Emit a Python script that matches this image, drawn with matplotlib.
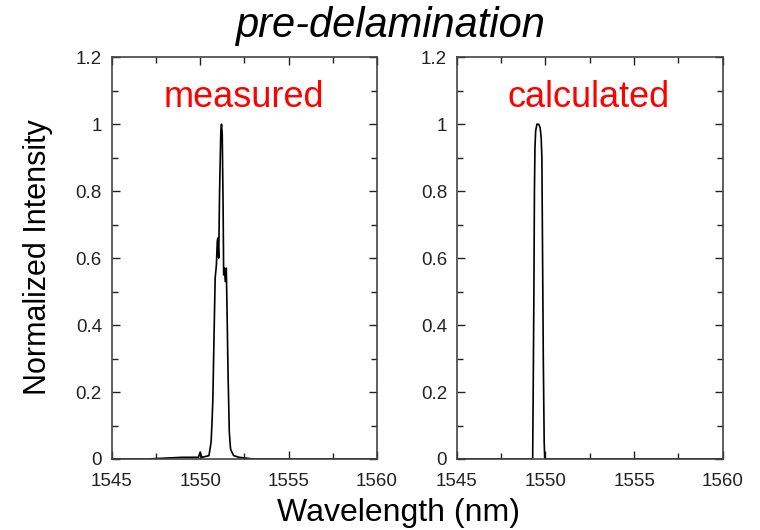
import matplotlib
matplotlib.use("Agg")
import matplotlib.pyplot as plt
from matplotlib.ticker import MultipleLocator

plt.rcParams['font.family'] = ['Liberation Sans', 'DejaVu Sans']

# measured spectrum (nm, normalized)
meas_wl = [1545.0, 1547.0, 1549.0, 1549.9, 1550.0, 1550.1, 1550.5, 1550.62, 1550.68,
           1550.72, 1550.78, 1550.85, 1550.92, 1550.97, 1551.0, 1551.05, 1551.1,
           1551.17, 1551.21, 1551.25, 1551.3, 1551.33, 1551.38, 1551.42, 1551.48,
           1551.52, 1551.58, 1551.65, 1551.72, 1551.8, 1551.9, 1552.2, 1553.0, 1560.0]
meas_int = [0.0, 0.0, 0.005, 0.005, 0.02, 0.005, 0.01, 0.05, 0.12,
            0.18, 0.35, 0.54, 0.58, 0.65, 0.66, 0.6, 0.8,
            0.98, 1.0, 0.97, 0.75, 0.55, 0.57, 0.53, 0.57,
            0.45, 0.25, 0.08, 0.03, 0.02, 0.01, 0.005, 0.0, 0.0]

# calculated spectrum
calc_wl = [1545.0, 1549.28, 1549.31, 1549.35, 1549.38, 1549.41, 1549.45, 1549.52,
           1549.62, 1549.7, 1549.76, 1549.8, 1549.84, 1549.88, 1549.93, 1549.96, 1560.0]
calc_int = [0.0, 0.0, 0.2, 0.5, 0.8, 0.93, 0.98, 1.0,
            1.0, 0.99, 0.96, 0.9, 0.6, 0.3, 0.05, 0.0, 0.0]

fig = plt.figure(figsize=(7.6, 5.3), dpi=100)
ax1 = fig.add_axes([0.147, 0.134, 0.349, 0.758])
ax2 = fig.add_axes([0.601, 0.134, 0.350, 0.758])

for ax, wl, inten, label in [(ax1, meas_wl, meas_int, 'measured'),
                             (ax2, calc_wl, calc_int, 'calculated')]:
    ax.plot(wl, inten, color='black', lw=1.2)
    ax.set_xlim(1545, 1560)
    ax.set_ylim(0, 1.2)
    ax.xaxis.set_major_locator(MultipleLocator(5))
    ax.xaxis.set_minor_locator(MultipleLocator(2.5))
    ax.yaxis.set_minor_locator(MultipleLocator(0.1))
    ax.set_yticks([0, 0.2, 0.4, 0.6, 0.8, 1, 1.2])
    ax.set_yticklabels(['0', '0.2', '0.4', '0.6', '0.8', '1', '1.2'])
    ax.tick_params(which='both', direction='in', top=True, right=True,
                   labelsize=13.5, colors='#222222', width=1)
    ax.tick_params(which='major', length=6)
    ax.tick_params(axis='x', which='major', pad=10)
    ax.tick_params(axis='y', which='major', pad=7)
    ax.tick_params(which='minor', length=4)
    for s in ax.spines.values():
        s.set_color('#444444')
        s.set_linewidth(1.2)
    ax.text(1552.45, 1.08, label, color='red', fontsize=26,
            ha='center', va='center')

fig.text(0.513, 0.950, 'pre-delamination', fontsize=30, style='italic',
         ha='center', va='center')
fig.text(0.524, 0.032, 'Wavelength (nm)', fontsize=23, ha='center', va='center')
fig.text(0.05, 0.515, 'Normalized Intensity', fontsize=22, rotation=90,
         ha='center', va='center')

fig.savefig('out.png', dpi=100)
